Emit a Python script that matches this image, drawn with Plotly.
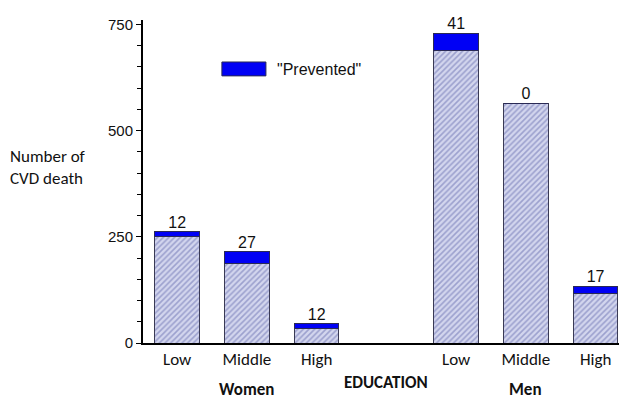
import plotly.graph_objects as go

# Data
positions = [0, 1, 2, 4, 5, 6]
levels = ["Low", "Middle", "High", "Low", "Middle", "High"]
groups = ["Women", "Men"]
base_deaths = [250, 188, 33, 688, 564, 116]
prevented = [12, 27, 12, 41, 0, 17]
totals = [b + p for b, p in zip(base_deaths, prevented)]

CAL = "Carlito, Lato, 'Open Sans', sans-serif"
ARI = "'Liberation Sans', Arial, sans-serif"

fig = go.Figure()
fig.add_trace(go.Bar(
    x=positions, y=base_deaths, width=0.64,
    marker=dict(color="#cdd1ec",
                line=dict(color="#3a3a55", width=1),
                pattern=dict(shape="/", fgcolor="#666cae", bgcolor="#d3d6ee",
                             size=4, solidity=0.4)),
    showlegend=False, hoverinfo="skip"))
fig.add_trace(go.Bar(
    x=positions, y=prevented, width=0.64,
    marker=dict(color="#0000f5", line=dict(color="#2a2a55", width=1)),
    showlegend=False, hoverinfo="skip"))
fig.add_trace(go.Scatter(
    x=positions, y=totals, mode="text", text=[str(p) for p in prevented],
    textposition="top center", textfont=dict(family=ARI, size=16, color="#111"),
    cliponaxis=False, showlegend=False, hoverinfo="skip"))

fig.update_layout(
    width=627, height=401, barmode="stack",
    margin=dict(l=135, r=8, t=12, b=66),
    plot_bgcolor="white", paper_bgcolor="white",
    xaxis=dict(range=[-0.49, 6.45], tickvals=positions, ticktext=levels,
               showgrid=False, zeroline=False, showline=True, linecolor="black",
               linewidth=2, ticks="", tickfont=dict(family=CAL, size=17, color="#111")),
    yaxis=dict(range=[0, 760], tickvals=[0, 250, 500, 750], showgrid=False,
               zeroline=False, showline=True, linecolor="black", linewidth=2,
               ticks="outside", ticklen=5, tickwidth=1, tickcolor="black",
               minor=dict(dtick=50, ticks="outside", ticklen=4, tickcolor="black"),
               tickfont=dict(family=ARI, size=15, color="#111")),
)

# Legend
fig.add_shape(type="rect", xref="paper", yref="paper", x0=0.163, x1=0.254,
              y0=0.827, y1=0.870, fillcolor="#0000f5",
              line=dict(color="#2a2a55", width=1))
fig.add_annotation(xref="paper", yref="paper", x=0.273, y=0.848, xanchor="left",
                   yanchor="middle", text='"Prevented"', showarrow=False,
                   font=dict(family=ARI, size=16, color="#111"))

# Axis labels
fig.add_annotation(xref="paper", yref="paper", x=-0.279, y=0.542, xanchor="left",
                   yanchor="middle", align="left", text="Number of<br>CVD death",
                   showarrow=False, font=dict(family=CAL, size=17, color="#111"))
fig.add_annotation(xref="x", yref="paper", x=1, y=-0.145, yanchor="middle",
                   text="<b>%s</b>" % groups[0], showarrow=False,
                   font=dict(family=CAL, size=17, color="#111"))
fig.add_annotation(xref="x", yref="paper", x=3, y=-0.121, yanchor="middle",
                   text="<b>EDUCATION</b>", showarrow=False,
                   font=dict(family=CAL, size=17, color="#111"))
fig.add_annotation(xref="x", yref="paper", x=5, y=-0.145, yanchor="middle",
                   text="<b>%s</b>" % groups[1], showarrow=False,
                   font=dict(family=CAL, size=17, color="#111"))

fig.write_html("out.html")
